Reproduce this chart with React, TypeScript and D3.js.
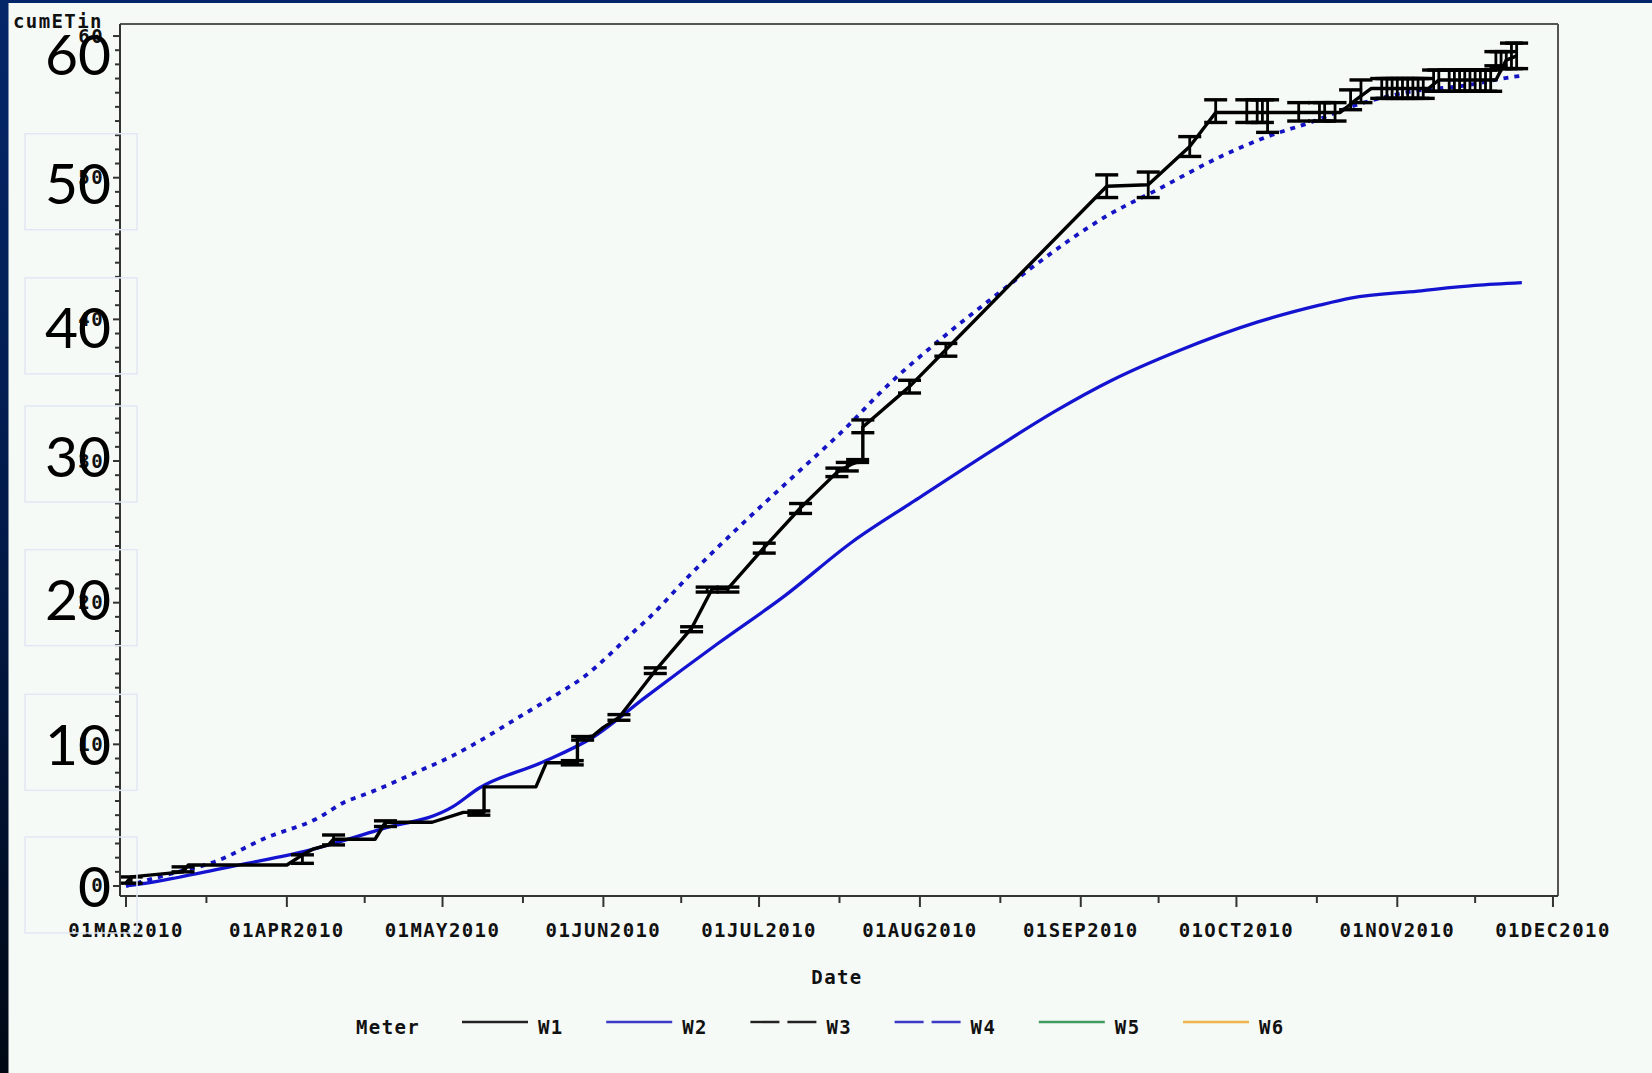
import React from 'react';
import * as d3 from 'd3';

// ---- data ----
const W1_DATES = [
  '2010-03-01', '2010-03-02', '2010-03-12', '2010-03-13', '2010-04-01', '2010-04-04', '2010-04-06',
  '2010-04-09', '2010-04-10', '2010-04-18', '2010-04-20', '2010-04-29', '2010-05-05', '2010-05-09',
  '2010-05-09', '2010-05-19', '2010-05-21', '2010-05-27', '2010-05-27', '2010-05-30', '2010-06-01',
  '2010-06-04', '2010-06-11', '2010-06-18', '2010-06-22', '2010-06-25', '2010-07-02', '2010-07-09',
  '2010-07-16', '2010-07-19', '2010-07-21', '2010-07-21', '2010-07-30', '2010-08-06', '2010-09-06',
  '2010-09-14', '2010-09-22', '2010-09-27', '2010-10-07', '2010-10-21', '2010-10-24', '2010-10-27',
  '2010-11-07', '2010-11-09', '2010-11-20', '2010-11-22', '2010-11-24',
];
const W1_VALUES = [
  0.2, 0.64, 1.0, 1.48, 1.48, 2.2, 2.6,
  2.9, 3.3, 3.3, 4.5, 4.5, 5.2, 5.2,
  7.0, 7.0, 8.7, 8.7, 10.4, 10.6, 11.2,
  11.9, 15.2, 18.2, 21.0, 21.0, 23.9, 26.7,
  29.2, 29.8, 30.1, 32.4, 35.25, 37.85, 49.4,
  49.5, 52.2, 54.6, 54.6, 54.6, 55.5, 56.3,
  56.3, 56.9, 56.9, 58.3, 58.6,
];

const BAR_DATES = [
  '2010-03-02', '2010-03-12', '2010-04-04', '2010-04-10', '2010-04-20', '2010-05-08', '2010-05-26',
  '2010-05-28', '2010-06-04', '2010-06-11', '2010-06-18', '2010-06-21', '2010-06-25', '2010-07-02',
  '2010-07-09', '2010-07-16', '2010-07-18', '2010-07-20', '2010-07-21', '2010-07-30', '2010-08-06',
  '2010-09-06', '2010-09-14', '2010-09-22', '2010-09-27', '2010-10-03', '2010-10-05', '2010-10-06',
  '2010-10-07', '2010-10-13', '2010-10-17', '2010-10-18', '2010-10-20', '2010-10-23', '2010-10-25',
  '2010-10-29', '2010-10-30', '2010-10-31', '2010-11-01', '2010-11-02', '2010-11-03', '2010-11-04',
  '2010-11-05', '2010-11-06', '2010-11-08', '2010-11-09', '2010-11-11', '2010-11-12', '2010-11-13',
  '2010-11-14', '2010-11-15', '2010-11-16', '2010-11-17', '2010-11-18', '2010-11-19', '2010-11-20',
  '2010-11-21', '2010-11-22', '2010-11-23', '2010-11-24',
];
const BAR_LOW = [
  0.2, 1.0, 1.6, 2.9, 4.2, 5.0, 8.55,
  10.3, 11.7, 15.0, 17.95, 20.75, 20.75, 23.5,
  26.3, 28.9, 29.3, 29.9, 32.0, 34.8, 37.4,
  48.6, 48.6, 51.5, 53.9, 53.9, 53.9, 53.9,
  53.2, 54.0, 54.0, 54.0, 54.0, 54.8, 55.3,
  55.6, 55.6, 55.6, 55.6, 55.6, 55.6, 55.6,
  55.6, 55.6, 56.1, 56.1, 56.1, 56.1, 56.1,
  56.1, 56.1, 56.1, 56.1, 56.1, 56.1, 57.9,
  57.7, 57.7, 57.7, 57.7,
];
const BAR_HIGH = [
  0.64, 1.35, 2.2, 3.6, 4.6, 5.3, 8.85,
  10.55, 12.1, 15.4, 18.3, 21.1, 21.1, 24.2,
  27.0, 29.5, 29.9, 30.1, 32.9, 35.7, 38.3,
  50.2, 50.4, 52.9, 55.5, 55.5, 55.5, 55.5,
  55.5, 55.3, 55.3, 55.3, 55.3, 56.2, 56.9,
  57.0, 57.0, 57.0, 57.0, 57.0, 57.0, 57.0,
  57.0, 57.0, 57.6, 57.6, 57.6, 57.6, 57.6,
  57.6, 57.6, 57.6, 57.6, 57.6, 57.6, 58.9,
  58.9, 58.9, 59.5, 59.5,
];

const W2_DATES = [
  '2010-03-01', '2010-03-05', '2010-03-11', '2010-03-23', '2010-04-05', '2010-04-19', '2010-05-03',
  '2010-05-08', '2010-05-20', '2010-05-30', '2010-06-09', '2010-06-23', '2010-07-06', '2010-07-19',
  '2010-07-31', '2010-08-16', '2010-08-27', '2010-09-07', '2010-09-20', '2010-10-05', '2010-10-17',
  '2010-10-23', '2010-11-05', '2010-11-16', '2010-11-25',
];
const W2_VALUES = [
  0, 0.2, 0.6, 1.5, 2.5, 4.0, 5.6,
  6.9, 8.7, 10.5, 13.3, 17.1, 20.5, 24.3,
  27.2, 31.0, 33.5, 35.7, 37.8, 39.8, 41.0,
  41.5, 42.0, 42.4, 42.6,
];

const W4_DATES = [
  '2010-03-01', '2010-03-09', '2010-03-18', '2010-03-28', '2010-04-07', '2010-04-12', '2010-04-17',
  '2010-04-27', '2010-05-03', '2010-05-07', '2010-05-17', '2010-05-22', '2010-05-28', '2010-06-07',
  '2010-06-10', '2010-06-17', '2010-06-27', '2010-07-07', '2010-07-19', '2010-07-24', '2010-08-06',
  '2010-08-16', '2010-08-22', '2010-09-06', '2010-09-16', '2010-09-28', '2010-10-07', '2010-10-16',
  '2010-10-23', '2010-11-04', '2010-11-14', '2010-11-23', '2010-11-25',
];
const W4_VALUES = [
  0, 0.8, 1.7, 3.4, 4.8, 5.9, 6.6,
  8.2, 9.2, 10.0, 12.2, 13.3, 14.7, 18.0,
  19.0, 21.7, 25.3, 28.7, 32.8, 34.7, 38.9,
  41.8, 43.5, 47.3, 49.2, 51.5, 52.9, 54.0,
  55.0, 56.1, 56.5, 57.1, 57.2,
];

const METERS = ['W1', 'W2', 'W3', 'W4', 'W5', 'W6'];
const Y_MAJOR = [0, 10, 20, 30, 40, 50, 60];
const OVERLAY_LABELS = ['0', '10', '20', '30', '40', '50', '60'];

// ---- layout / style (not data) ----
const WIDTH = 1652;
const HEIGHT = 1073;
const PLOT = { left: 120, right: 1558, top: 24, bottom: 896 };
const OVERLAY_NUDGE = [1, 0, -3, -5, 8.5, 6, 18];
const LEGEND_STYLE: Record<string, { color: string; dash?: string }> = {
  W1: { color: '#222222' },
  W2: { color: '#3a3ac6' },
  W3: { color: '#222222', dash: '29 8' },
  W4: { color: '#3a3ac6', dash: '29 8' },
  W5: { color: '#3e9a5e' },
  W6: { color: '#efb54c' },
};
const SAS_FONT = "'DejaVu Sans Mono', monospace";

const parse = d3.utcParse('%Y-%m-%d');
const fmt = d3.utcFormat('%d%b%Y');

type Pt = [Date, number];

export default function App() {
  const x = d3
    .scaleUtc()
    .domain([new Date(Date.UTC(2010, 1, 27, 20, 15)), new Date(Date.UTC(2010, 11, 1, 23, 17))])
    .range([PLOT.left, PLOT.right]);
  const y = d3.scaleLinear().domain([-0.706, 60.85]).range([PLOT.bottom, PLOT.top]);

  const toPts = (dates: string[], vals: number[]): Pt[] =>
    dates.map((d, i) => [parse(d) as Date, vals[i]] as Pt);
  const w1 = toPts(W1_DATES, W1_VALUES);
  const w2 = toPts(W2_DATES, W2_VALUES);
  const w4 = toPts(W4_DATES, W4_VALUES);

  const lin = d3.line<Pt>().x((d) => x(d[0])).y((d) => y(d[1]));
  const smooth = d3
    .line<Pt>()
    .x((d) => x(d[0]))
    .y((d) => y(d[1]))
    .curve(d3.curveMonotoneX);

  const months = x.ticks(d3.utcMonth.every(1) as any);
  const minorX = months.slice(0, -1).map((m, i) => new Date((m.getTime() + months[i + 1].getTime()) / 2));
  const minorY = d3.range(0, 61, 1).filter((v) => v % 10 !== 0);

  const capHalf = 11.5;

  return (
    <svg
      width={WIDTH}
      height={HEIGHT}
      style={{ position: 'absolute', left: 0, top: 0, display: 'block' }}
      xmlns="http://www.w3.org/2000/svg"
    >
      <defs>
        <linearGradient id="navy" x1="0" y1="0" x2="0" y2="1">
          <stop offset="0" stopColor="#04276a" />
          <stop offset="0.5" stopColor="#021a4a" />
          <stop offset="1" stopColor="#000814" />
        </linearGradient>
      </defs>
      <rect x={0} y={0} width={WIDTH} height={HEIGHT} fill="#f6faf7" />
      <rect x={0} y={0} width={WIDTH} height={3} fill="#03266a" />
      <rect x={0} y={0} width={8.5} height={HEIGHT} fill="url(#navy)" />

      {/* series */}
      <path d={smooth(w4) || ''} fill="none" stroke="#1414c4" strokeWidth={3.8} strokeDasharray="5 6" />
      <path d={smooth(w2) || ''} fill="none" stroke="#1414d0" strokeWidth={3.3} />
      <path d={lin(w1) || ''} fill="none" stroke="#000" strokeWidth={3.4} strokeLinejoin="round" />
      <g stroke="#000" strokeWidth={3.4}>
        {BAR_DATES.map((d, i) => {
          const cx = x(parse(d) as Date);
          const y0 = y(BAR_LOW[i]);
          const y1 = y(BAR_HIGH[i]);
          return (
            <g key={'bar' + i}>
              <line x1={cx} x2={cx} y1={y0} y2={y1} strokeWidth={2.8} />
              <line x1={cx - capHalf} x2={cx + capHalf} y1={y0} y2={y0} />
              <line x1={cx - capHalf} x2={cx + capHalf} y1={y1} y2={y1} />
            </g>
          );
        })}
      </g>

      {/* frame */}
      <line x1={PLOT.left} x2={PLOT.right} y1={PLOT.top} y2={PLOT.top} stroke="#555" strokeWidth={2} />
      <line x1={PLOT.right} x2={PLOT.right} y1={PLOT.top} y2={PLOT.bottom} stroke="#555" strokeWidth={2} />
      <line x1={PLOT.left} x2={PLOT.left} y1={PLOT.top} y2={PLOT.bottom} stroke="#333" strokeWidth={2} />
      <line x1={PLOT.left} x2={PLOT.right} y1={PLOT.bottom} y2={PLOT.bottom} stroke="#333" strokeWidth={2} />

      {/* ticks */}
      <g stroke="#333" strokeWidth={2}>
        {months.map((m, i) => (
          <line key={'xt' + i} x1={x(m)} x2={x(m)} y1={PLOT.bottom} y2={PLOT.bottom + 11} />
        ))}
        {minorX.map((m, i) => (
          <line key={'xm' + i} x1={x(m)} x2={x(m)} y1={PLOT.bottom} y2={PLOT.bottom + 7} />
        ))}
        {Y_MAJOR.map((v, i) => (
          <line key={'yt' + i} x1={PLOT.left - 7} x2={PLOT.left} y1={y(v)} y2={y(v)} />
        ))}
        {minorY.map((v, i) => (
          <line key={'ym' + i} x1={PLOT.left - 5} x2={PLOT.left} y1={y(v)} y2={y(v)} />
        ))}
      </g>
      <g fontFamily={SAS_FONT} fontWeight="bold" fontSize={19} letterSpacing={1.4} fill="#111">
        {months.map((m, i) => (
          <text key={'xl' + i} x={x(m)} y={937} textAnchor="middle">
            {fmt(m).toUpperCase()}
          </text>
        ))}
        <text x={837} y={983.5} textAnchor="middle">Date</text>
        <text x={13} y={27.5}>cumETin</text>
        {Y_MAJOR.map((v, i) => (
          <text key={'yl' + i} x={104} y={y(v) + 6.5} textAnchor="end">
            {v}
          </text>
        ))}
        <text x={356} y={1034}>Meter</text>
        {METERS.map((m, i) => {
          const x0 = 462 + i * 144.2;
          return (
            <text key={'lt' + i} x={x0 + 76} y={1034}>
              {m}
            </text>
          );
        })}
      </g>
      {METERS.map((m, i) => {
        const x0 = 462 + i * 144.2;
        const st = LEGEND_STYLE[m];
        return (
          <line
            key={'ll' + i}
            x1={x0}
            x2={x0 + 66}
            y1={1022}
            y2={1022}
            stroke={st.color}
            strokeWidth={2.4}
            strokeDasharray={st.dash}
          />
        );
      })}

      {/* pasted overlay labels */}
      {OVERLAY_LABELS.map((t, i) => {
        const cy = y(Y_MAJOR[i]) + OVERLAY_NUDGE[i];
        return (
          <g key={'ov' + i}>
            {Y_MAJOR[i] < 60 && (
              <rect x={25} y={cy - 50} width={112} height={96} fill="none" stroke="#e2e8f3" strokeWidth={1.5} />
            )}
            <text x={111} y={cy + 20.5} textAnchor="end" fontFamily="Lato, 'Open Sans', sans-serif" fontSize={57} fill="#000">
              {t}
            </text>
          </g>
        );
      })}
    </svg>
  );
}
